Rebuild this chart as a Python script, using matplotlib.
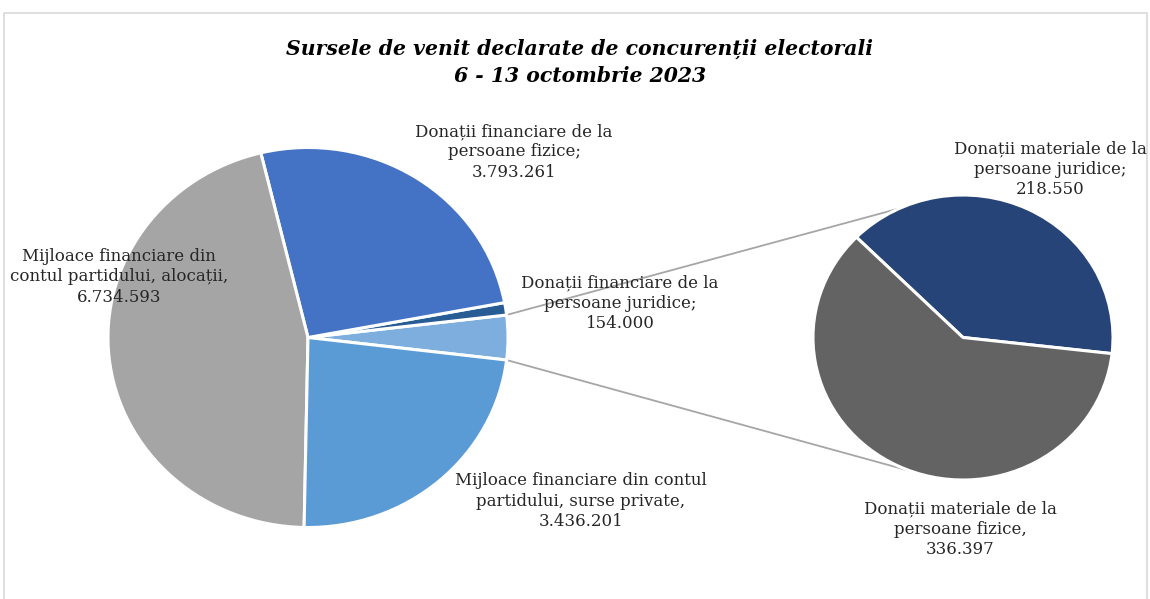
import numpy as np
import matplotlib.pyplot as plt
from matplotlib.patches import ConnectionPatch, Rectangle

# main pie, drawn counter-clockwise starting with the "other" slice (material donations)
main_names = ["Donații materiale", "Donații financiare de la\npersoane juridice;",
              "Donații financiare de la\npersoane fizice;",
              "Mijloace financiare din\ncontul partidului, alocații,",
              "Mijloace financiare din contul\npartidului, surse private,"]
sub_names = ["Donații materiale de la\npersoane juridice;",
             "Donații materiale de la\npersoane fizice,"]
sub_values = [218550, 336397]
main_values = [sum(sub_values), 154000, 3793261, 6734593, 3436201]

main_colors = ["#7DAEDD", "#275C95", "#4472C4", "#A5A5A5", "#5B9BD5"]
sub_colors = ["#264478", "#636363"]

title = "Sursele de venit declarate de concurenții electorali\n6 - 13 octombrie 2023"


def fmt(v):
    return f"{v:,}".replace(",", ".")


W, H = 1150, 599
fig = plt.figure(figsize=(W / 100, H / 100), dpi=100)


def px_axes(cx, cy, rx, ry):
    return fig.add_axes([(cx - rx) / W, 1 - (cy + ry) / H, 2 * rx / W, 2 * ry / H])


# frame around the chart
fig.patches.append(Rectangle((4 / W, -0.05), 1143 / W, 1.05 - 13 / H, transform=fig.transFigure,
                             fill=False, edgecolor="#D9D9D9", linewidth=1.2))

wedge_style = dict(edgecolor="white", linewidth=2.2)

ax1 = px_axes(308, 337.5, 200, 190)
other_angle = main_values[0] / sum(main_values) * 360
ax1.pie(main_values, colors=main_colors, startangle=-other_angle / 2,
        counterclock=True, wedgeprops=wedge_style, radius=1)
ax1.set_aspect("auto")
ax1.set_xlim(-1, 1)
ax1.set_ylim(-1, 1)
ax1.axis("off")

ax2 = px_axes(963, 337.5, 150, 142.5)
ax2.pie(sub_values, colors=sub_colors, startangle=-6.5, counterclock=True,
        wedgeprops=wedge_style, radius=1)
ax2.set_aspect("auto")
ax2.set_xlim(-1, 1)
ax2.set_ylim(-1, 1)
ax2.axis("off")

# connector lines between the two pies
a = np.deg2rad(other_angle / 2)
for sa, ea in [(a, np.deg2rad(115)), (-a, np.deg2rad(-110))]:
    con = ConnectionPatch(xyA=(np.cos(sa), np.sin(sa)), coordsA=ax1.transData,
                          xyB=(np.cos(ea), np.sin(ea)), coordsB=ax2.transData,
                          color="#A6A6A6", linewidth=1.3, zorder=0)
    fig.add_artist(con)

# labels
txt = dict(family="DejaVu Serif", fontsize=12.0, ha="center", va="center",
           color="#262626", linespacing=1.24)
main_label_pos = [None, (620, 303), (514, 152), (119, 277), (581, 501)]
for name, val, pos in zip(main_names, main_values, main_label_pos):
    if pos is None:
        continue
    fig.text(pos[0] / W, 1 - pos[1] / H, f"{name}\n{fmt(val)}", **txt)

sub_label_pos = [(1050, 169), (960, 529)]
for name, val, pos in zip(sub_names, sub_values, sub_label_pos):
    fig.text(pos[0] / W, 1 - pos[1] / H, f"{name}\n{fmt(val)}", **txt)

fig.text(580 / W, 1 - 62 / H, title, family="DejaVu Serif", fontsize=14.7,
         fontweight="bold", fontstyle="italic", ha="center", va="center",
         color="black", linespacing=1.45)

fig.savefig("out.png", dpi=100)
